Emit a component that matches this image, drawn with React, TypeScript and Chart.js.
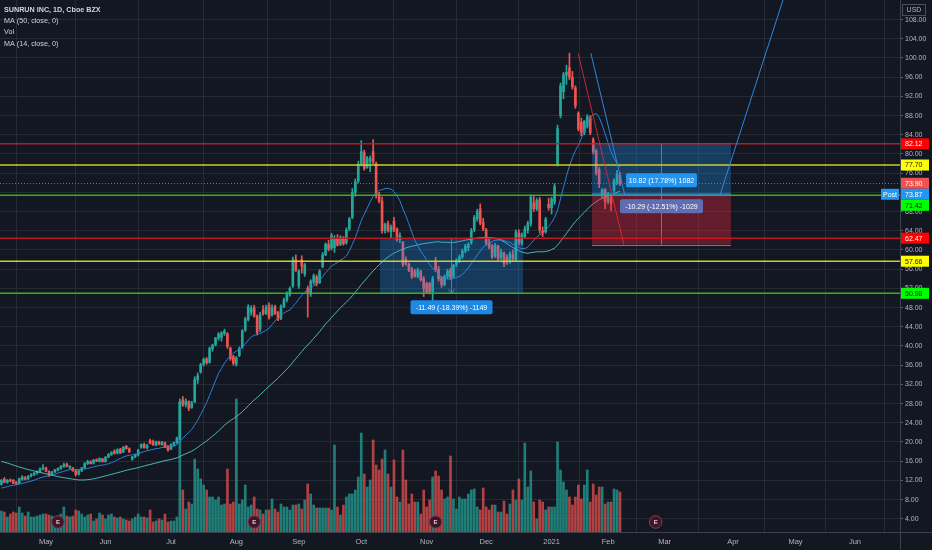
import React, { useEffect, useRef } from 'react';
import { Chart, registerables } from 'chart.js';

Chart.register(...registerables);

// ---------- data ----------
const monthLabels = ['May', 'Jun', 'Jul', 'Aug', 'Sep', 'Oct', 'Nov', 'Dec', '2021', 'Feb', 'Mar', 'Apr', 'May', 'Jun'];
const monthStartBars = [15, 35, 57, 79, 100, 121, 143, 163, 185, 204, 223, 246, 267, 287];
const priceTicks = [4, 8, 12, 16, 20, 24, 28, 32, 36, 40, 44, 48, 52, 56, 60, 64, 68, 72, 76, 80, 84, 88, 92, 96, 100, 104, 108];

const opens = [
  11.2, 12.3, 11.6, 12.0, 12.0, 11.6, 11.4, 12.2, 12.6, 12.3,
  12.9, 13.2, 13.5, 13.8, 14.4, 14.6, 13.9, 13.2, 13.8, 14.2,
  14.5, 14.9, 15.4, 14.8, 14.6, 14.0, 13.3, 14.0, 14.6, 15.5,
  15.9, 15.6, 16.3, 16.0, 16.5, 15.9, 16.9, 17.4, 18.1, 17.7,
  18.5, 17.9, 19.1, 18.6, 16.4, 16.9, 17.3, 18.9, 19.5, 18.8,
  20.3, 20.1, 19.4, 20.0, 19.5, 19.8, 19.1, 18.5, 19.4, 19.9,
  20.8, 28.8, 27.8, 28.4, 27.2, 28.4, 33.0, 34.6, 36.2, 37.3,
  36.6, 39.4, 40.3, 41.6, 41.8, 42.6, 42.5, 39.5, 37.8, 36.2,
  38.0, 39.8, 43.4, 45.5, 47.0, 48.0, 46.2, 43.5, 47.5, 46.8,
  48.5, 46.5, 48.2, 47.0, 45.8, 48.2, 49.6, 50.8, 52.5, 58.0,
  52.5, 58.0, 55.0, 52.0, 50.8, 53.3, 54.4, 53.2, 56.5, 59.0,
  61.2, 60.4, 60.5, 62.4, 61.2, 62.5, 61.5, 64.4, 66.8, 72.0,
  74.4, 78.0, 80.3, 77.2, 78.5, 80.5, 78.0, 71.6, 70.2, 64.1,
  65.5, 63.8, 66.0, 64.4, 62.2, 61.5, 58.0, 57.0, 56.0, 55.5,
  54.5, 55.5, 54.0, 53.0, 53.0, 51.3, 57.5, 56.0, 54.2, 52.8,
  54.5, 55.8, 54.5, 57.0, 57.8, 58.6, 59.8, 60.5, 61.5, 64.2,
  66.5, 68.6, 65.8, 64.2, 61.5, 60.8, 58.8, 60.8, 58.5, 59.3,
  58.5, 57.5, 59.0, 58.0, 63.5, 61.4, 62.8, 64.2, 65.5, 69.8,
  68.6, 70.5, 64.0, 63.8, 69.5, 68.8, 70.0, 78.0, 88.0, 93.0,
  96.4, 98.0, 96.0, 93.8, 88.5, 86.6, 84.5, 85.8, 87.5, 83.0,
  80.6, 76.8, 71.2, 72.6, 70.0, 70.8, 72.4, 74.0, 75.5,
];
const highs = [
  12.2, 12.6, 12.2, 12.3, 12.2, 11.8, 12.5, 13.0, 12.8, 13.0,
  13.4, 13.7, 14.0, 14.6, 15.3, 14.8, 14.0, 13.9, 14.3, 14.6,
  15.1, 15.6, 15.6, 15.0, 14.7, 14.2, 14.2, 14.7, 15.7, 16.2,
  16.1, 16.4, 16.5, 16.7, 16.6, 17.0, 17.6, 18.0, 18.4, 18.6,
  18.7, 19.1, 19.3, 18.8, 17.0, 17.5, 18.5, 19.6, 19.8, 19.5,
  20.6, 20.4, 20.2, 20.2, 20.1, 20.0, 19.3, 19.6, 20.0, 21.0,
  29.0, 29.5, 29.0, 28.6, 28.5, 33.6, 34.4, 36.4, 37.5, 37.6,
  39.8, 40.4, 41.8, 42.8, 43.0, 43.5, 42.8, 39.8, 38.1, 37.8,
  39.8, 43.4, 46.0, 48.6, 48.4, 48.5, 46.5, 47.0, 48.4, 48.5,
  49.0, 48.6, 48.5, 47.2, 48.6, 50.0, 51.3, 52.3, 58.5, 59.0,
  55.9, 58.8, 57.2, 52.5, 53.8, 55.0, 54.8, 55.9, 59.5, 61.5,
  62.0, 63.5, 63.0, 63.2, 63.0, 62.8, 64.6, 66.8, 72.8, 74.8,
  78.5, 82.8, 80.8, 79.5, 79.6, 83.0, 78.3, 72.0, 71.0, 65.6,
  66.0, 65.2, 66.8, 64.6, 63.6, 61.8, 58.6, 57.3, 56.4, 56.0,
  56.2, 55.8, 54.5, 53.3, 53.3, 54.5, 58.5, 56.6, 54.5, 54.8,
  56.0, 56.2, 57.0, 58.2, 59.0, 60.2, 61.2, 61.5, 64.5, 67.2,
  68.5, 69.6, 66.6, 64.5, 62.2, 61.2, 61.4, 61.0, 60.2, 59.6,
  59.0, 59.6, 60.0, 64.2, 64.2, 63.6, 65.0, 66.0, 71.5, 71.2,
  70.8, 71.0, 64.8, 66.8, 70.8, 71.0, 73.8, 86.0, 94.8, 97.0,
  98.5, 101.0, 97.2, 94.2, 88.8, 87.5, 87.0, 88.2, 88.0, 83.4,
  81.0, 77.2, 72.8, 72.8, 72.0, 71.2, 74.8, 76.6, 76.2,
];
const lows = [
  11.0, 11.5, 11.4, 11.7, 11.3, 11.2, 11.3, 12.0, 12.1, 12.2,
  12.7, 13.0, 13.3, 13.6, 14.2, 13.8, 12.8, 13.0, 13.6, 14.0,
  14.3, 14.7, 14.8, 14.4, 13.9, 12.9, 13.1, 13.8, 14.5, 15.3,
  15.4, 15.4, 15.9, 15.8, 15.8, 15.8, 16.7, 17.2, 17.5, 17.5,
  17.6, 17.8, 18.5, 17.8, 16.2, 16.7, 17.1, 18.7, 18.7, 18.5,
  19.6, 19.3, 19.2, 19.4, 19.3, 18.8, 18.1, 18.4, 19.2, 19.7,
  20.5, 27.4, 27.3, 26.5, 27.0, 28.2, 32.2, 34.3, 35.8, 36.2,
  36.4, 38.9, 40.0, 41.2, 41.0, 42.2, 39.5, 37.0, 36.0, 35.8,
  37.8, 39.5, 43.0, 45.2, 46.4, 46.0, 42.3, 43.0, 46.4, 46.5,
  45.6, 46.2, 46.5, 45.3, 45.5, 48.0, 49.2, 50.4, 52.2, 55.5,
  52.0, 55.2, 54.5, 46.0, 50.3, 52.8, 52.5, 53.0, 56.3, 58.8,
  59.8, 60.0, 59.5, 60.8, 60.9, 61.0, 61.2, 64.0, 66.5, 71.2,
  74.0, 77.5, 76.6, 77.0, 76.3, 78.0, 70.8, 69.8, 63.5, 63.5,
  63.7, 62.5, 63.8, 61.8, 61.5, 56.5, 56.8, 55.5, 54.0, 54.3,
  54.2, 53.5, 50.3, 51.0, 50.8, 49.5, 55.5, 53.5, 52.2, 52.5,
  54.0, 54.0, 54.2, 56.5, 57.4, 58.2, 59.4, 59.8, 61.2, 63.8,
  66.0, 65.2, 64.0, 61.0, 60.2, 58.2, 58.4, 57.8, 58.0, 56.5,
  57.0, 57.2, 57.8, 57.8, 61.0, 61.0, 62.4, 63.5, 65.0, 68.0,
  68.2, 63.5, 62.8, 63.5, 68.3, 67.5, 69.5, 77.5, 87.5, 91.5,
  94.5, 95.5, 93.5, 89.5, 84.8, 83.8, 84.0, 85.4, 84.0, 80.0,
  75.6, 73.0, 70.8, 68.6, 69.6, 68.2, 72.0, 73.6, 73.4,
];
const closes = [
  12.0, 11.6, 12.0, 11.9, 11.4, 11.3, 12.4, 12.7, 12.2, 12.9,
  13.2, 13.5, 13.9, 14.4, 14.6, 13.9, 13.3, 13.7, 14.2, 14.5,
  14.9, 15.3, 14.9, 14.9, 14.0, 13.3, 14.0, 14.6, 15.5, 15.9,
  15.5, 16.2, 16.0, 16.6, 15.9, 16.8, 17.4, 17.8, 17.6, 18.4,
  17.7, 18.9, 18.6, 17.9, 16.9, 17.3, 18.3, 19.5, 18.8, 19.2,
  19.7, 19.4, 20.1, 19.5, 20.0, 19.0, 18.3, 19.4, 19.9, 20.8,
  28.4, 27.8, 28.5, 27.0, 28.2, 33.0, 33.8, 36.1, 37.2, 36.5,
  39.5, 40.2, 41.6, 42.5, 42.7, 43.1, 39.9, 37.4, 36.4, 37.5,
  39.5, 43.2, 45.6, 48.2, 47.8, 46.2, 42.8, 46.5, 46.7, 48.1,
  46.0, 48.0, 46.8, 45.6, 48.2, 49.6, 50.8, 52.0, 57.9, 55.8,
  55.6, 56.6, 56.9, 51.0, 53.5, 54.6, 53.0, 55.6, 59.0, 61.2,
  60.2, 63.0, 62.2, 61.0, 62.6, 61.3, 64.2, 66.5, 72.0, 74.2,
  77.8, 80.5, 77.0, 79.2, 79.0, 78.3, 71.5, 70.2, 64.0, 65.3,
  64.0, 64.8, 64.3, 62.2, 63.0, 57.0, 57.2, 55.8, 54.5, 54.5,
  55.8, 53.8, 52.0, 51.2, 51.3, 54.0, 56.0, 54.0, 52.8, 54.5,
  55.6, 54.4, 56.8, 57.8, 58.6, 59.8, 60.8, 61.2, 64.0, 66.8,
  68.0, 65.6, 64.4, 61.4, 60.6, 58.6, 61.0, 58.2, 59.5, 57.2,
  57.5, 59.2, 58.2, 63.8, 61.5, 63.2, 64.4, 65.5, 71.0, 68.6,
  70.3, 64.2, 63.5, 66.4, 68.8, 70.6, 73.2, 85.3, 94.2, 96.5,
  97.0, 96.0, 94.0, 90.0, 85.2, 84.5, 86.8, 87.8, 84.4, 80.4,
  76.0, 73.8, 72.5, 70.0, 71.6, 69.8, 74.4, 75.8, 73.9,
];
// volume in 100K shares
const volumes = [
  21, 20, 15, 18, 20, 19, 25, 19, 16, 20,
  15, 15, 16, 17, 18, 18, 17, 16, 15, 16,
  18, 25, 16, 15, 16, 22, 21, 18, 15, 17,
  18, 11, 13, 19, 17, 13, 17, 18, 15, 14,
  15, 13, 12, 11, 13, 15, 18, 15, 15, 14,
  22, 10, 11, 13, 12, 18, 10, 11, 11, 15,
  130, 42, 23, 30, 28, 73, 63, 53, 47, 42,
  35, 35, 32, 35, 27, 28, 63, 28, 30, 133,
  28, 32, 47, 25, 27, 35, 23, 22, 18, 22,
  22, 33, 23, 20, 28, 25, 25, 22, 27, 27,
  28, 23, 32, 48, 38, 27, 24, 24, 24, 24,
  24, 22, 87, 25, 17, 27, 35, 38, 38, 42,
  55, 99, 58, 45, 52, 92, 67, 62, 73, 82,
  58, 45, 72, 35, 30, 82, 52, 28, 38, 30,
  30, 18, 42, 25, 32, 55, 61, 56, 42, 33,
  35, 76, 33, 23, 35, 33, 33, 38, 42, 43,
  25, 22, 44, 25, 22, 27, 27, 20, 20, 31,
  18, 28, 42, 32, 53, 32, 89, 45, 61, 30,
  13, 32, 30, 22, 25, 25, 25, 90, 62, 50,
  42, 35, 27, 35, 47, 33, 47, 62, 30, 48,
  37, 45, 45, 28, 30, 30, 43, 42, 40,
];
// off-screen closes before the first visible bar (warm-up for the moving averages)
const priorCloses = [
  20.5, 21.0, 21.6, 22.0, 22.3, 21.8, 22.1, 21.5, 20.8, 21.2,
  20.6, 21.4, 22.0, 21.7, 21.0, 20.2, 20.8, 21.5, 21.9, 21.3,
  20.7, 20.1, 19.6, 19.0, 18.4,
  17.2, 15.8, 14.6, 13.0, 12.1, 10.5, 9.6, 8.6, 8.1, 9.0,
  9.3, 9.5, 9.8, 9.6, 10.0, 9.8, 10.2, 10.5, 10.2, 10.6, 11.0, 10.8, 10.6, 11.0,
];

// horizontal levels drawn on the chart
const levelPrices = [82.12, 77.7, 71.42, 62.47, 57.66, 50.98];
const levelLineColors = ['rgba(205,25,35,0.9)', 'rgba(215,215,40,0.95)', 'rgba(50,190,30,0.95)', 'rgba(205,25,35,0.9)', 'rgba(215,215,40,0.95)', 'rgba(50,190,30,0.95)'];

// price-axis labels
const axisLabelPrices = [82.12, 77.7, 73.9, 73.87, 71.42, 62.47, 57.66, 50.98];
const axisLabelBg = ['#ff0000', '#ffff00', '#ef5350', '#2196f3', '#00ff00', '#ff0000', '#ffff00', '#00ff00'];
const axisLabelFg = ['#ffffff', '#131722', '#ffffff', '#ffffff', '#131722', '#ffffff', '#131722', '#131722'];
const postPrice = 73.87;

// price range measurement
const measureBars = [127.3, 175.4];
const measurePrices = [62.47, 50.98];
const measureText = '-11.49 (-18.39%) -1149';

// long position tool
const longBars = [198.6, 245.3];
const longEntry = 71.42;
const longTarget = 82.24;
const longStop = 61.13;
const longProfitText = '10.82 (17.78%) 1082';
const longLossText = '-10.29 (-12.51%) -1029';

// trend lines / path
const redTrendBars = [193.9, 209.3];
const redTrendPrices = [101.0, 61.13];
const bluePathBars = [198.2, 209.6, 241.6, 266.0];
const bluePathPrices = [101.0, 71.42, 71.42, 118.2];

const earningsBars = [19, 85, 146, 220];

const legendLines = ['SUNRUN INC, 1D, Cboe BZX', 'MA (50, close, 0)', 'Vol', 'MA (14, close, 0)'];

// ---------- helpers ----------
const FONT = "'Liberation Sans', Arial, sans-serif";
const UP = '#26a69a';
const DOWN = '#ef5350';
const GRID = '#262a35';
const AXIS = '#3d414c';

function movingAverage(period: number): number[] {
  const all = [...priorCloses, ...closes];
  const off = priorCloses.length;
  return closes.map((_, i) => {
    const end = i + off;
    let s = 0;
    for (let k = end - period + 1; k <= end; k++) s += all[k];
    return s / period;
  });
}

const overlayPlugin = {
  id: 'overlay',
  afterDatasetsDraw(chart: any) {
    const { ctx, chartArea: a } = chart;
    const xs = chart.scales.x;
    const ys = chart.scales.y;
    const X = (v: number) => xs.getPixelForValue(v);
    const Y = (v: number) => ys.getPixelForValue(v);
    ctx.save();
    ctx.beginPath();
    ctx.rect(a.left, a.top, a.right - a.left, a.bottom - a.top);
    ctx.clip();

    // measurement rectangle
    const mx0 = X(measureBars[0]);
    const mx1 = X(measureBars[1]);
    const my0 = Y(measurePrices[0]);
    const my1 = Y(measurePrices[1]);
    ctx.fillStyle = 'rgba(33,150,243,0.28)';
    ctx.fillRect(mx0, my0, mx1 - mx0, my1 - my0);
    const mmid = X((measureBars[0] + measureBars[1]) / 2);
    ctx.strokeStyle = 'rgba(33,150,243,0.9)';
    ctx.lineWidth = 1;
    ctx.beginPath();
    ctx.moveTo(mmid, my0);
    ctx.lineTo(mmid, my1);
    ctx.moveTo(mmid - 3, my1 - 4);
    ctx.lineTo(mmid, my1);
    ctx.lineTo(mmid + 3, my1 - 4);
    ctx.stroke();

    // long position zones
    const lx0 = X(longBars[0]);
    const lx1 = X(longBars[1]);
    const yT = Y(longTarget);
    const yE = Y(longEntry);
    const yS = Y(longStop);
    ctx.fillStyle = 'rgba(33,150,243,0.3)';
    ctx.fillRect(lx0, yT, lx1 - lx0, yE - yT);
    ctx.fillStyle = 'rgba(242,40,60,0.36)';
    ctx.fillRect(lx0, yE, lx1 - lx0, yS - yE);
    ctx.strokeStyle = 'rgba(150,150,220,0.75)';
    ctx.beginPath();
    ctx.moveTo(lx0, Math.round(yT) + 0.5);
    ctx.lineTo(lx1, Math.round(yT) + 0.5);
    ctx.moveTo(lx0, Math.round(yS) + 0.5);
    ctx.lineTo(lx1, Math.round(yS) + 0.5);
    ctx.stroke();
    const lmid = X((longBars[0] + longBars[1]) / 2);
    ctx.strokeStyle = 'rgba(33,150,243,0.9)';
    ctx.beginPath();
    ctx.moveTo(Math.round(lmid) + 0.5, yT);
    ctx.lineTo(Math.round(lmid) + 0.5, yS);
    ctx.stroke();

    // horizontal levels
    levelPrices.forEach((p, k) => {
      const yy = Y(p);
      ctx.strokeStyle = levelLineColors[k];
      ctx.lineWidth = 1.5;
      ctx.beginPath();
      ctx.moveTo(a.left, yy);
      ctx.lineTo(a.right, yy);
      ctx.stroke();
    });
    ctx.lineWidth = 1;

    // post-market dotted line
    ctx.setLineDash([1, 2]);
    ctx.strokeStyle = 'rgba(33,150,243,0.9)';
    ctx.beginPath();
    const py = Math.round(Y(postPrice)) + 0.5;
    ctx.moveTo(a.left, py);
    ctx.lineTo(a.right, py);
    ctx.stroke();
    ctx.setLineDash([]);

    // entry line of the long position
    ctx.strokeStyle = '#2196f3';
    ctx.beginPath();
    ctx.moveTo(lx0, Math.round(yE) - 1);
    ctx.lineTo(lx1, Math.round(yE) - 1);
    ctx.stroke();

    // trend lines
    ctx.strokeStyle = 'rgba(230,40,50,0.85)';
    ctx.beginPath();
    ctx.moveTo(X(redTrendBars[0]), Y(redTrendPrices[0]));
    ctx.lineTo(X(redTrendBars[1]), Y(redTrendPrices[1]));
    ctx.stroke();
    ctx.strokeStyle = 'rgba(50,140,230,0.95)';
    ctx.beginPath();
    bluePathBars.forEach((b, k) => {
      if (k === 0) ctx.moveTo(X(b), Y(bluePathPrices[k]));
      else ctx.lineTo(X(b), Y(bluePathPrices[k]));
    });
    ctx.stroke();

    // labels
    const label = (text: string, cx: number, cy: number, bg: string, w: number) => {
      ctx.font = `7px ${FONT}`;
      const h = 14;
      ctx.fillStyle = bg;
      const x0 = cx - w / 2;
      const y0 = cy - h / 2;
      ctx.beginPath();
      const r = 2;
      ctx.moveTo(x0 + r, y0);
      ctx.lineTo(x0 + w - r, y0);
      ctx.quadraticCurveTo(x0 + w, y0, x0 + w, y0 + r);
      ctx.lineTo(x0 + w, y0 + h - r);
      ctx.quadraticCurveTo(x0 + w, y0 + h, x0 + w - r, y0 + h);
      ctx.lineTo(x0 + r, y0 + h);
      ctx.quadraticCurveTo(x0, y0 + h, x0, y0 + h - r);
      ctx.lineTo(x0, y0 + r);
      ctx.quadraticCurveTo(x0, y0, x0 + r, y0);
      ctx.fill();
      ctx.fillStyle = '#ffffff';
      ctx.textAlign = 'center';
      ctx.textBaseline = 'middle';
      ctx.fillText(text, cx, cy + 0.5);
    };
    label(measureText, mmid, my1 + 14, '#1e88e5', 82);
    label(longProfitText, lmid, yE - 15, '#2196f3', 71);
    label(longLossText, lmid, yE + 11, 'rgba(98,115,185,0.95)', 83);

    // earnings markers
    earningsBars.forEach((b) => {
      const cx = X(b);
      const cy = a.bottom - 10;
      ctx.beginPath();
      ctx.arc(cx, cy, 6.3, 0, Math.PI * 2);
      ctx.fillStyle = '#3a1826';
      ctx.fill();
      ctx.strokeStyle = '#98345e';
      ctx.lineWidth = 1;
      ctx.stroke();
      ctx.fillStyle = '#f0c0d0';
      ctx.font = `bold 6px ${FONT}`;
      ctx.textAlign = 'center';
      ctx.textBaseline = 'middle';
      ctx.fillText('E', cx, cy + 0.5);
    });
    ctx.restore();
  },
  afterDraw(chart: any) {
    const { ctx, chartArea: a } = chart;
    const ys = chart.scales.y;
    ctx.save();
    // axis frame continuation (bottom-right corner)
    ctx.strokeStyle = AXIS;
    ctx.lineWidth = 1;
    ctx.beginPath();
    ctx.moveTo(a.right + 0.5, a.bottom);
    ctx.lineTo(a.right + 0.5, chart.height);
    ctx.moveTo(a.right, a.bottom + 0.5);
    ctx.lineTo(chart.width, a.bottom + 0.5);
    ctx.stroke();

    // price axis labels with overlap push-down
    const h = 11;
    let prev = -Infinity;
    axisLabelPrices.forEach((p, k) => {
      let cy = ys.getPixelForValue(p);
      if (cy - prev < h) cy = prev + h;
      prev = cy;
      ctx.fillStyle = axisLabelBg[k];
      ctx.fillRect(a.right + 1, cy - h / 2, 28, h);
      ctx.fillStyle = axisLabelFg[k];
      ctx.font = `7px ${FONT}`;
      ctx.textAlign = 'left';
      ctx.textBaseline = 'middle';
      ctx.fillText(p.toFixed(2), a.right + 5, cy + 0.5);
      if (p === postPrice) {
        ctx.fillStyle = '#2196f3';
        ctx.fillRect(a.right - 19, cy - h / 2, 18, h);
        ctx.fillStyle = '#ffffff';
        ctx.textAlign = 'center';
        ctx.fillText('Post', a.right - 10, cy + 0.5);
      }
    });
    // USD box
    ctx.fillStyle = '#131722';
    ctx.fillRect(a.right + 2, 4, 23, 11);
    ctx.strokeStyle = '#4a4e5a';
    ctx.lineWidth = 1;
    ctx.strokeRect(a.right + 2.5, 4.5, 23, 11);
    ctx.fillStyle = '#b2b5be';
    ctx.font = `7px ${FONT}`;
    ctx.textAlign = 'center';
    ctx.textBaseline = 'middle';
    ctx.fillText('USD', a.right + 14, 10.5);

    // legend
    ctx.textAlign = 'left';
    ctx.fillStyle = '#d1d4dc';
    legendLines.forEach((t, k) => {
      ctx.font = k === 0 ? `bold 7.2px ${FONT}` : `7.2px ${FONT}`;
      ctx.fillText(t, 4, 10 + k * 11.2);
    });
    ctx.restore();
  },
};

export default function App() {
  const ref = useRef<HTMLCanvasElement | null>(null);

  useEffect(() => {
    document.body.style.margin = '0';
    const canvas = ref.current;
    if (!canvas) return;
    const idx = closes.map((_, i) => i);
    const isUp = idx.map((i) => closes[i] >= opens[i]);
    const candleColors = isUp.map((u) => (u ? UP : DOWN));
    const volColors = isUp.map((u) => (u ? 'rgba(38,166,154,0.72)' : 'rgba(239,83,80,0.72)'));
    const ma50 = movingAverage(50);
    const ma14 = movingAverage(14);

    const xMin = -0.471;
    const xMax = 302.15;

    const chart = new Chart(canvas, {
      type: 'bar',
      data: {
        datasets: [
          {
            type: 'bar',
            label: 'Vol',
            data: idx.map((i) => ({ x: i, y: volumes[i] })),
            yAxisID: 'yVol',
            backgroundColor: volColors,
            barThickness: 2,
            grouped: false,
            borderWidth: 0,
            order: 10,
          } as any,
          {
            type: 'bar',
            label: 'wick',
            data: idx.map((i) => ({ x: i, y: [lows[i], highs[i]] })),
            yAxisID: 'y',
            backgroundColor: candleColors,
            barThickness: 1,
            grouped: false,
            borderWidth: 0,
            order: 4,
          } as any,
          {
            type: 'bar',
            label: 'body',
            data: idx.map((i) => ({ x: i, y: [opens[i], closes[i]] })),
            yAxisID: 'y',
            backgroundColor: candleColors,
            barThickness: 2,
            grouped: false,
            borderWidth: 0,
            minBarLength: 1,
            order: 3,
          } as any,
          {
            type: 'line',
            label: 'MA 50',
            data: idx.map((i) => ({ x: i, y: ma50[i] })),
            yAxisID: 'y',
            borderColor: '#4fb8b4',
            borderWidth: 1,
            pointRadius: 0,
            tension: 0,
            order: 2,
          } as any,
          {
            type: 'line',
            label: 'MA 14',
            data: idx.map((i) => ({ x: i, y: ma14[i] })),
            yAxisID: 'y',
            borderColor: '#2f7fd6',
            borderWidth: 1,
            pointRadius: 0,
            tension: 0,
            order: 1,
          } as any,
        ],
      },
      options: {
        responsive: false,
        animation: false,
        maintainAspectRatio: false,
        layout: { padding: 0 },
        plugins: { legend: { display: false }, tooltip: { enabled: false } },
        scales: {
          x: {
            type: 'linear',
            min: xMin,
            max: xMax,
            offset: false,
            afterBuildTicks: (s: any) => {
              s.ticks = monthStartBars.map((v) => ({ value: v }));
            },
            afterFit: (s: any) => {
              s.height = 18;
              s.paddingLeft = 0;
              s.paddingRight = 0;
            },
            ticks: {
              autoSkip: false,
              maxRotation: 0,
              color: '#b2b5be',
              font: { size: 7.5, family: FONT },
              padding: 5,
              callback: (_v: any, i: number) => monthLabels[i],
            },
            grid: { color: GRID, drawTicks: false, tickLength: 0 },
            border: { color: AXIS },
          },
          y: {
            type: 'linear',
            position: 'right',
            min: 1.25,
            max: 112.08,
            afterBuildTicks: (s: any) => {
              s.ticks = priceTicks.map((v) => ({ value: v }));
            },
            afterFit: (s: any) => {
              s.width = 32;
              s.paddingTop = 0;
              s.paddingBottom = 0;
            },
            ticks: {
              color: '#b2b5be',
              font: { size: 7, family: FONT },
              padding: 2,
              callback: (v: any) => Number(v).toFixed(2),
            },
            grid: { color: GRID, tickLength: 3, tickColor: '#5d606b' },
            border: { color: AXIS },
          },
          yVol: {
            type: 'linear',
            display: false,
            min: 0,
            max: 532,
          },
        },
      } as any,
      plugins: [overlayPlugin],
    });
    return () => chart.destroy();
  }, []);

  return (
    <div style={{ position: 'fixed', left: 0, top: 0, width: 932, height: 550, background: '#131722' }}>
      <canvas ref={ref} width={932} height={550} style={{ width: 932, height: 550, display: 'block' }} />
    </div>
  );
}
